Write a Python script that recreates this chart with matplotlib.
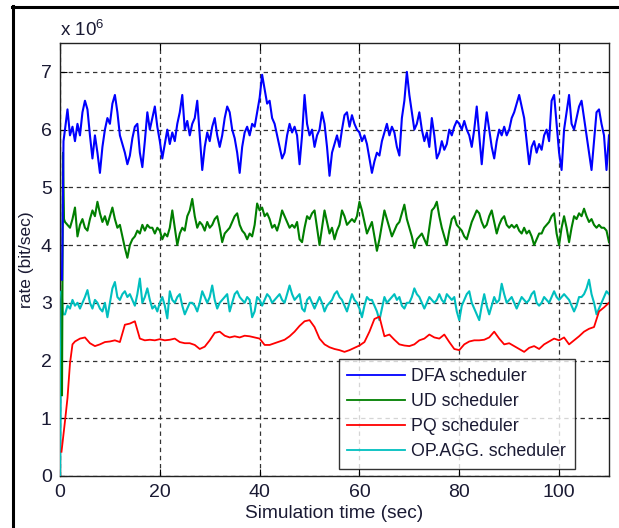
import numpy as np
import matplotlib
matplotlib.use("Agg")
import matplotlib.pyplot as plt
from matplotlib.lines import Line2D

plt.rcParams['font.family'] = ['Liberation Sans', 'DejaVu Sans']
plt.rcParams['mathtext.default'] = 'regular'

# ---------------- data (rate in units of 1e6 bit/sec) ----------------
labels = ["DFA scheduler", "UD scheduler", "PQ scheduler", "OP.AGG. scheduler"]
colors = ["#0000ff", "#007f00", "#ff0000", "#00bfbf"]

# start-up transients
dfa_t0 = [0.4, 0.5, 0.7]
dfa_v0 = [3.4, 4.1, 5.8]
ud_t0 = [0.4, 0.6, 0.8]
ud_v0 = [1.4, 5.6, 4.45]
opagg_t0 = [0.0, 0.3, 0.6]
opagg_v0 = [0.0, 3.2, 2.8]
pq_t0 = [0.3, 1.0, 1.5, 2.0, 2.5]
pq_v0 = [0.42, 0.95, 1.35, 1.95, 2.28]

# sampled every 0.5 s from t = 1.0 s
dfa = [6.0, 6.35, 5.9, 6.05, 5.8, 6.1, 5.9, 6.3, 6.5, 6.35, 5.9, 5.5, 5.9, 5.6, 5.25, 5.7,
       6.0, 6.2, 6.1, 6.45, 6.6, 6.3, 5.9, 5.75, 5.6, 5.4, 5.55, 5.85, 6.05, 6.1, 5.6, 5.35,
       5.8, 6.3, 6.0, 6.2, 6.4, 6.05, 5.8, 5.5, 5.75, 6.0, 5.75, 5.95, 5.8, 6.1, 6.3, 6.6,
       6.0, 6.15, 5.9, 6.1, 6.2, 6.5, 5.9, 5.3, 5.7, 5.95, 5.8, 6.05, 6.2, 5.9, 5.7, 5.9,
       6.2, 6.4, 6.3, 6.0, 5.85, 5.6, 5.25, 5.7, 5.95, 6.05, 5.9, 6.1, 6.05, 6.3, 6.55, 6.95,
       6.7, 6.45, 6.5, 6.2, 6.1, 5.9, 5.7, 5.5, 5.6, 5.9, 6.1, 5.95, 6.05, 5.9, 5.4, 5.9,
       6.6, 6.1, 5.9, 6.0, 5.7, 5.9, 6.0, 6.3, 6.1, 5.7, 5.2, 5.6, 5.75, 5.9, 5.7, 6.0,
       6.25, 6.3, 6.05, 6.25, 6.1, 6.0, 5.95, 5.8, 5.9, 5.75, 5.5, 5.25, 5.45, 5.6, 5.55, 5.8,
       5.95, 6.1, 5.9, 6.05, 5.95, 5.7, 5.55, 6.2, 6.5, 7.0, 6.6, 6.3, 6.0, 6.1, 6.3, 6.0,
       5.8, 5.95, 5.7, 6.2, 5.9, 5.5, 5.6, 5.8, 5.65, 5.75, 6.0, 5.9, 6.05, 6.15, 6.1, 6.0,
       6.15, 6.0, 5.9, 5.7, 6.0, 6.4, 5.9, 5.4, 5.9, 6.3, 6.0, 5.7, 5.5, 5.8, 6.0, 5.9,
       6.05, 5.9, 6.0, 6.2, 6.3, 6.45, 6.6, 6.4, 6.2, 5.8, 5.4, 5.7, 5.8, 5.6, 5.75, 5.65,
       5.9, 6.0, 5.8, 6.5, 6.6, 6.1, 5.6, 5.3, 6.0, 6.3, 6.6, 6.1, 6.0, 6.2, 6.4, 6.5,
       6.2, 5.9, 5.6, 5.3, 5.8, 6.3, 6.35, 6.1, 5.9, 5.3, 5.9]

ud = [4.4, 4.35, 4.3, 4.45, 4.65, 4.15, 4.35, 4.45, 4.3, 4.25, 4.45, 4.6, 4.5, 4.75, 4.55, 4.4,
      4.5, 4.35, 4.5, 4.65, 4.45, 4.3, 4.35, 4.15, 3.95, 3.78, 4.0, 4.1, 4.15, 4.25, 4.2, 4.35,
      4.25, 4.35, 4.3, 4.3, 4.2, 4.3, 4.25, 4.1, 4.2, 4.15, 4.3, 4.6, 4.3, 4.0, 4.2, 4.3,
      4.25, 4.5, 4.6, 4.8, 4.5, 4.3, 4.4, 4.35, 4.25, 4.4, 4.3, 4.35, 4.45, 4.5, 4.3, 4.05,
      4.2, 4.25, 4.3, 4.4, 4.5, 4.55, 4.35, 4.25, 4.2, 4.1, 4.2, 4.15, 4.35, 4.72, 4.6, 4.65,
      4.5, 4.55, 4.45, 4.3, 4.35, 4.25, 4.4, 4.6, 4.5, 4.4, 4.3, 4.35, 4.3, 4.4, 4.1, 4.05,
      4.3, 4.5, 4.45, 4.55, 4.6, 4.3, 4.0, 4.3, 4.6, 4.4, 4.2, 4.3, 4.1, 4.25, 4.35, 4.6,
      4.5, 4.35, 4.4, 4.45, 4.4, 4.5, 4.75, 4.6, 4.4, 4.2, 4.3, 4.4, 4.15, 3.9, 4.1, 4.35,
      4.6, 4.45, 4.3, 4.15, 4.25, 4.35, 4.4, 4.55, 4.7, 4.45, 4.3, 4.15, 3.95, 4.1, 4.15, 4.2,
      4.1, 4.0, 4.3, 4.6, 4.65, 4.75, 4.5, 4.3, 4.15, 4.0, 4.25, 4.45, 4.5, 4.35, 4.3, 4.25,
      4.15, 4.1, 4.25, 4.4, 4.5, 4.6, 4.55, 4.4, 4.3, 4.35, 4.5, 4.6, 4.4, 4.2, 4.35, 4.45,
      4.5, 4.35, 4.3, 4.35, 4.3, 4.35, 4.25, 4.2, 4.3, 4.2, 4.25, 4.15, 4.0, 4.1, 4.2, 4.2,
      4.3, 4.35, 4.4, 4.5, 4.55, 4.2, 4.0, 4.3, 4.5, 4.3, 4.05, 4.3, 4.5, 4.45, 4.55, 4.5,
      4.63, 4.5, 4.4, 4.45, 4.35, 4.3, 4.35, 4.3, 4.3, 4.25, 4.05]

opagg = [2.8, 2.95, 2.9, 3.05, 2.95, 3.0, 2.9, 3.0, 3.1, 3.22, 3.0, 2.9, 3.05, 3.0, 2.9, 2.85,
         3.0, 2.75, 3.0, 3.25, 3.36, 3.1, 3.05, 3.15, 3.2, 3.1, 3.15, 3.05, 2.95, 3.15, 3.42, 3.0,
         3.1, 3.25, 3.05, 2.9, 2.95, 2.85, 3.0, 3.1, 2.95, 2.73, 3.2, 3.05, 3.0, 3.1, 3.15, 2.95,
         2.8, 2.9, 3.0, 3.0, 2.95, 2.85, 3.0, 3.2, 3.1, 3.0, 3.1, 3.3, 3.05, 2.9, 3.0, 3.05,
         3.1, 3.15, 2.85, 3.0, 3.15, 3.2, 3.1, 3.05, 3.0, 3.1, 3.05, 2.75, 2.85, 3.1, 3.05, 2.95,
         3.05, 3.15, 3.1, 3.0, 3.05, 3.1, 3.15, 3.05, 3.0, 3.15, 3.3, 3.15, 3.05, 3.1, 3.15, 2.9,
         2.85, 3.05, 3.1, 3.0, 2.9, 3.0, 3.1, 3.0, 2.85, 2.95, 3.0, 3.05, 3.15, 3.2, 3.1, 3.05,
         2.95, 2.85, 3.0, 3.15, 3.05, 3.0, 2.9, 2.75, 2.95, 3.1, 3.05, 3.05, 2.95, 2.85, 2.7, 2.9,
         3.1, 3.0, 3.05, 3.1, 3.15, 3.05, 3.1, 2.95, 2.9, 3.0, 3.0, 3.1, 3.25, 3.15, 3.1, 3.0,
         2.9, 3.0, 3.1, 3.05, 3.0, 3.05, 3.15, 3.05, 3.0, 3.15, 3.1, 3.05, 3.1, 2.85, 2.7, 2.95,
         3.05, 3.15, 3.2, 3.0, 2.9, 2.8, 2.7, 2.95, 3.15, 2.95, 2.8, 2.95, 3.1, 3.0, 3.05, 3.33,
         3.15, 3.0, 3.05, 3.1, 3.0, 2.9, 3.0, 3.1, 3.05, 3.0, 3.05, 3.15, 3.2, 3.0, 2.95, 3.0,
         3.1, 3.05, 3.0, 3.1, 3.2, 3.1, 3.05, 3.1, 3.15, 3.1, 3.05, 2.95, 2.85, 2.95, 3.1, 3.1,
         3.15, 3.25, 3.4, 3.15, 3.0, 2.8, 2.9, 3.0, 3.1, 3.2, 3.15]

# sampled every 1 s from t = 3 s
pq = [2.33, 2.38, 2.4, 2.3, 2.25, 2.28, 2.32, 2.33, 2.35, 2.32, 2.62, 2.64, 2.68, 2.38, 2.35, 2.36,
      2.35, 2.37, 2.35, 2.36, 2.38, 2.32, 2.3, 2.3, 2.27, 2.2, 2.24, 2.35, 2.48, 2.5, 2.43, 2.4,
      2.42, 2.4, 2.43, 2.42, 2.4, 2.38, 2.27, 2.27, 2.3, 2.33, 2.36, 2.42, 2.5, 2.6, 2.68, 2.7,
      2.58, 2.38, 2.28, 2.23, 2.2, 2.18, 2.15, 2.18, 2.22, 2.26, 2.32, 2.5, 2.72, 2.76, 2.42, 2.45,
      2.36, 2.28, 2.26, 2.25, 2.28, 2.35, 2.38, 2.45, 2.4, 2.38, 2.45, 2.32, 2.2, 2.18, 2.28, 2.33,
      2.35, 2.35, 2.36, 2.4, 2.5, 2.38, 2.28, 2.3, 2.25, 2.2, 2.15, 2.22, 2.25, 2.2, 2.28, 2.33,
      2.38, 2.35, 2.4, 2.28, 2.35, 2.42, 2.5, 2.55, 2.58, 2.85, 2.92, 3.0]

x_ticks = [0, 20, 40, 60, 80, 100]
y_ticks = [0, 1, 2, 3, 4, 5, 6, 7]

# ---------------- assemble series ----------------
def series(t0, v0, vals, start, step):
    t = np.concatenate([t0, start + step * np.arange(len(vals))])
    v = np.concatenate([v0, vals])
    return t, v

all_series = [
    series(dfa_t0, dfa_v0, dfa, 1.0, 0.5),
    series(ud_t0, ud_v0, ud, 1.0, 0.5),
    series(pq_t0, pq_v0, pq, 3.0, 1.0),
    series(opagg_t0, opagg_v0, opagg, 1.0, 0.5),
]

# ---------------- figure ----------------
W, H = 619, 528
fig = plt.figure(figsize=(W / 100, H / 100), dpi=100)
ax = fig.add_axes([60 / W, 1 - 476 / H, 549 / W, 433 / H])

tick_color = "#1a1a33"
handles = [None] * 4
for i in [3, 2, 1, 0]:
    t, v = all_series[i]
    lw = 1.3 if i == 2 else 1.5
    (ln,) = ax.plot(t, v, color=colors[i], lw=lw, label=labels[i], zorder=3)
    handles[i] = ln

ax.set_xlim(0, 110)
ax.set_ylim(0, 7.5)
ax.set_xticks(x_ticks)
ax.set_yticks(y_ticks)
ax.tick_params(direction="in", length=5, width=0.8, top=True, right=True,
               labelsize=14, labelcolor=tick_color, pad=6)
ax.grid(True, color="#333333", linestyle=(0, (3.5, 3)), linewidth=0.9)
for s in ax.spines.values():
    s.set_linewidth(1.0)
    s.set_color("#222222")

ax.set_xlabel("Simulation time (sec)", fontsize=13.8, color=tick_color, labelpad=3)
ax.set_ylabel("rate (bit/sec)", fontsize=12.5, color=tick_color, labelpad=5)

fig.text(60 / W, 1 - 36 / H, "x 10$^{6}$", fontsize=13.5, color=tick_color,
         ha="left", va="baseline")

leg = ax.legend(handles=handles, labels=labels, loc="lower right",
                bbox_to_anchor=(0.938, 0.016), fontsize=12.75, frameon=True,
                fancybox=False, handlelength=3.25, handletextpad=0.35,
                labelspacing=0.45, borderpad=0.5, borderaxespad=0.0)
leg.get_frame().set_edgecolor("black")
leg.get_frame().set_linewidth(1.0)
for ln in leg.get_lines():
    ln.set_linewidth(1.3)
for txt in leg.get_texts():
    txt.set_color(tick_color)

# outer frame (left and top edges visible in the crop)
fig.add_artist(Line2D([13 / W, 13 / W], [0, 1 - 6 / H], color="black", lw=2.2,
                      transform=fig.transFigure))
fig.add_artist(Line2D([12 / W, 1], [1 - 7 / H, 1 - 7 / H], color="black", lw=2.2,
                      transform=fig.transFigure))

fig.savefig("out.png", dpi=100)
